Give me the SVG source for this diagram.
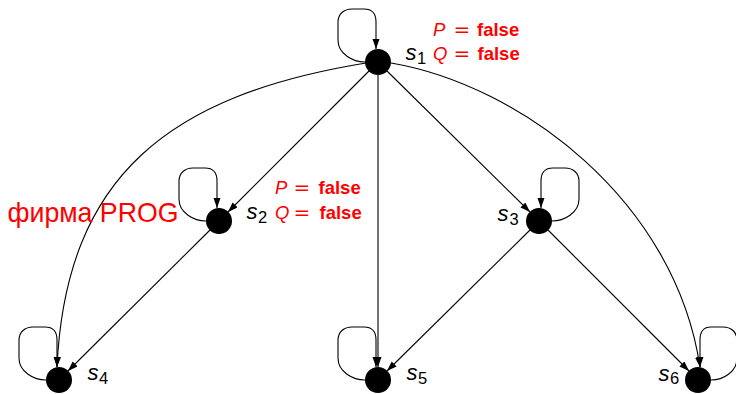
<svg xmlns="http://www.w3.org/2000/svg" width="736" height="394" viewBox="0 0 736 394">
<style>
  .edge{fill:none;stroke:#000;stroke-width:1.1;marker-end:url(#arr)}
  .node{fill:#000}
  .sl{font-family:"Liberation Sans",Arial,sans-serif;font-size:22px;font-style:italic;fill:#000}
  .sub{font-style:normal;font-size:16.5px}
  .prop{font-family:"Liberation Sans",Arial,sans-serif;font-size:18.5px;fill:#f00}
  .it{font-style:italic}
  .eq{font-family:"DejaVu Sans",sans-serif;font-size:20px}
  .bf{font-weight:bold}
  .prog{font-family:"Liberation Sans",Arial,sans-serif;font-size:28px;fill:#f00}
</style>
<defs>
  <marker id="arr" markerUnits="userSpaceOnUse" markerWidth="11" markerHeight="8" refX="10" refY="3.5" orient="auto">
    <path d="M0,0 L10,3.5 L0,7 Z" fill="#000"/>
  </marker>
</defs>
<rect width="736" height="394" fill="#fff"/>

<g id="connectors">
  <!-- self loops -->
  <path class="edge" d="M365,62 C353,62 338,54 338,40 L338,22 C338,14 344,9 352,9 L364,9 C372,9 376,14 376,22 L376,49"/>
  <path class="edge" d="M206,221 C194,221 179,213 179,199 L179,181 C179,173 185,168 193,168 L205,168 C213,168 217,173 217,181 L217,208"/>
  <path class="edge" d="M552,221 C564,221 579,213 579,199 L579,181 C579,173 573,168 565,168 L553,168 C545,168 541,173 541,181 L541,208"/>
  <path class="edge" d="M46,380 C34,380 19,372 19,358 L19,340 C19,332 25,327 33,327 L45,327 C53,327 57,332 57,340 L57,367"/>
  <path class="edge" d="M365,380 C353,380 338,372 338,358 L338,340 C338,332 344,327 352,327 L364,327 C372,327 376,332 376,340 L376,367"/>
  <path class="edge" d="M711,380 C723,380 737,372 737,358 L737,340 C737,332 731,327 723,327 L711,327 C703,327 700,332 700,340 L700,367"/>
  <!-- s1 edges -->
  <path class="edge" d="M369,71 L228,212"/>
  <path class="edge" d="M387,71 L530,212"/>
  <path class="edge" d="M378,75 L378,367"/>
  <path class="edge" d="M366,63 C170,95 66,175 57,367"/>
  <path class="edge" d="M391,63 C520,85 675,200 700,367"/>
  <!-- s2, s3 edges -->
  <path class="edge" d="M210,230 L68,371"/>
  <path class="edge" d="M530,230 L387,371"/>
  <path class="edge" d="M548,230 L689,371"/>
</g>

<g id="s1">
  <circle class="node" cx="378" cy="62" r="13"/>
  <text class="sl" x="405.5" y="60">s<tspan class="sub" x="417" y="63.5">1</tspan></text>
  <text class="prop" y="36"><tspan class="it" x="433">P</tspan><tspan class="eq" x="453.5">=</tspan><tspan class="bf" x="477">false</tspan></text>
  <text class="prop" y="60"><tspan class="it" x="433">Q</tspan><tspan class="eq" x="453.5">=</tspan><tspan class="bf" x="477.5">false</tspan></text>
</g>

<g id="s2">
  <circle class="node" cx="219" cy="221" r="13"/>
  <text class="sl" x="246.5" y="219">s<tspan class="sub" x="258" y="222.5">2</tspan></text>
  <text class="prop" y="194"><tspan class="it" x="275">P</tspan><tspan class="eq" x="293.5">=</tspan><tspan class="bf" x="318.5">false</tspan></text>
  <text class="prop" y="218.5"><tspan class="it" x="275">Q</tspan><tspan class="eq" x="293.5">=</tspan><tspan class="bf" x="319.5">false</tspan></text>
</g>

<g id="s3">
  <circle class="node" cx="539" cy="221" r="13"/>
  <text class="sl" x="497.5" y="221">s<tspan class="sub" x="509.5" y="225">3</tspan></text>
</g>

<g id="s4">
  <circle class="node" cx="59" cy="380" r="13"/>
  <text class="sl" x="87.5" y="380">s<tspan class="sub" x="99" y="384">4</tspan></text>
</g>

<g id="s5">
  <circle class="node" cx="378" cy="380" r="13"/>
  <text class="sl" x="406.5" y="380">s<tspan class="sub" x="418" y="384">5</tspan></text>
</g>

<g id="s6">
  <circle class="node" cx="698" cy="380" r="13"/>
  <text class="sl" x="658.5" y="381">s<tspan class="sub" x="670" y="384">6</tspan></text>
</g>

<g id="label-prog">
  <text class="prog" x="7.5" y="222" textLength="171" lengthAdjust="spacingAndGlyphs">фирма PROG</text>
</g>
</svg>
